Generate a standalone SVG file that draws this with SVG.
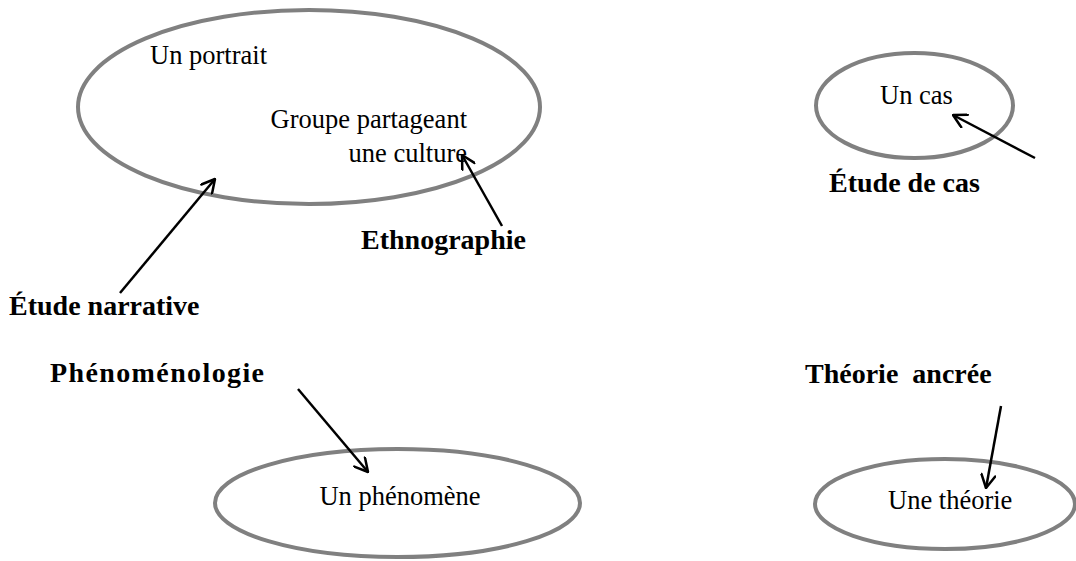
<svg xmlns="http://www.w3.org/2000/svg" width="1076" height="561" viewBox="0 0 1076 561">
  <style>
    .bubble { fill: #ffffff; stroke: #808080; stroke-width: 4; }
    .txt { font-family: "Liberation Serif", "Times New Roman", serif; font-size: 26.5px; fill: #000000; }
    .lbl { font-family: "Liberation Serif", "Times New Roman", serif; font-size: 28px; font-weight: bold; fill: #000000; }
    .arrow { stroke: #000000; stroke-width: 2.5; fill: none; marker-end: url(#vhead); }
  </style>
  <defs>
    <marker id="vhead" markerUnits="userSpaceOnUse" viewBox="0 0 16 16" markerWidth="16" markerHeight="16" refX="15" refY="8" orient="auto">
      <path d="M2,1 L15,8 L2,15" fill="none" stroke="#000000" stroke-width="2.5" stroke-linecap="round" stroke-linejoin="round"/>
    </marker>
  </defs>
  <rect width="1076" height="561" fill="#ffffff"/>

  <!-- Research objects (ellipses) -->
  <g id="node-portrait-culture">
    <ellipse class="bubble" cx="309" cy="107" rx="231" ry="97"/>
    <text class="txt" x="150" y="64">Un portrait</text>
    <text class="txt" x="467" y="128" text-anchor="end">Groupe partageant</text>
    <text class="txt" x="467" y="162" text-anchor="end">une culture</text>
  </g>
  <g id="node-cas">
    <ellipse class="bubble" cx="914.5" cy="105.5" rx="98.5" ry="52.5"/>
    <text class="txt" x="880" y="104">Un cas</text>
  </g>
  <g id="node-phenomene">
    <ellipse class="bubble" cx="397.5" cy="503" rx="182.5" ry="54"/>
    <text class="txt" x="400" y="505" text-anchor="middle">Un phénomène</text>
  </g>
  <g id="node-theorie">
    <ellipse class="bubble" cx="945" cy="504" rx="130" ry="45"/>
    <text class="txt" x="888" y="509">Une théorie</text>
  </g>

  <!-- Approach labels -->
  <g id="label-narrative">
    <text class="lbl" x="9" y="315">Étude narrative</text>
  </g>
  <g id="label-ethnographie">
    <text class="lbl" x="361" y="249">Ethnographie</text>
  </g>
  <g id="label-etude-de-cas">
    <text class="lbl" x="829" y="192">Étude de cas</text>
  </g>
  <g id="label-phenomenologie">
    <text class="lbl" x="50" y="382" textLength="214" lengthAdjust="spacing">Phénoménologie</text>
  </g>
  <g id="label-theorie-ancree">
    <text class="lbl" x="805" y="383" xml:space="preserve">Théorie  ancrée</text>
  </g>

  <!-- Connectors -->
  <g id="connectors">
    <line class="arrow" x1="120" y1="293" x2="215" y2="179"/>
    <line class="arrow" x1="502" y1="226" x2="462" y2="155"/>
    <line class="arrow" x1="1035" y1="158" x2="953" y2="115"/>
    <line class="arrow" x1="298" y1="389" x2="368" y2="472"/>
    <line class="arrow" x1="1001" y1="406" x2="986" y2="488"/>
  </g>
</svg>
